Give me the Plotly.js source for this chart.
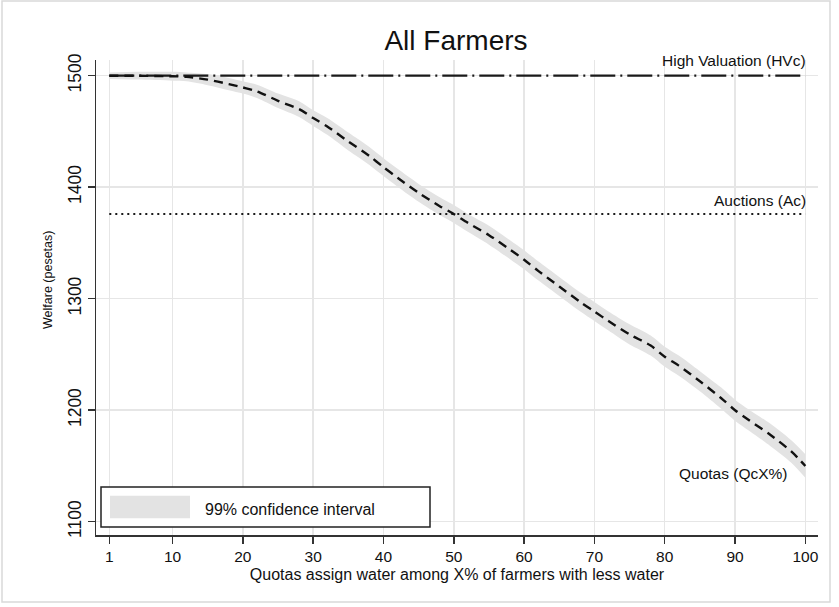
<!DOCTYPE html>
<html>
<head>
<meta charset="utf-8">
<script src="https://cdn.plot.ly/plotly-3.0.1.min.js"></script>
<style>html,body{margin:0;padding:0;background:#fff;}#chart{width:839px;height:607px;}</style>
</head>
<body>
<div id="chart"></div>
<script>
// X% of farmers with less water
const xPct = [1,5,10,12,15,18,20,22,25,28,30,32,35,38,40,42,45,48,50,52,55,58,60,62,65,68,70,72,75,78,80,82,85,88,90,92,95,98,100];
// Quotas (QcX%) welfare estimate
const quotaWelfare = [1500,1500,1499.5,1499,1496.5,1492.5,1489.5,1486,1477.5,1470,1462,1454.5,1441,1428,1418,1408.5,1395,1383,1376,1368,1357,1344,1335,1325,1311,1297,1288.5,1280,1268,1258,1248,1240,1226,1211,1200,1191,1178,1163,1150];
// 99% confidence interval bounds
const ciLow  = [1497,1496.5,1495.5,1495,1491.5,1487,1484,1480,1471,1463,1455,1447,1433,1420,1410,1400.5,1387,1375,1368,1360,1348.5,1335.5,1326.5,1316.5,1302.5,1288.5,1280,1271.5,1259,1249,1239,1231,1217,1201.5,1190.5,1181.5,1168,1153,1139.5];
const ciHigh = [1503,1503.5,1503.5,1503,1501.5,1498,1495,1492,1484,1477,1469,1462,1449,1436,1426,1416.5,1403,1391,1384,1376,1365.5,1352.5,1343.5,1333.5,1319.5,1305.5,1297,1288.5,1277,1267,1257,1249,1235,1220.5,1209.5,1200.5,1188,1173,1160.5];
// Reference levels
const hvcX = [1, 100];
const hvcWelfare = [1500, 1500];
const acX = [1, 100];
const acWelfare = [1376, 1376];
// Tick labels
const xTicks = [1,10,20,30,40,50,60,70,80,90,100];
const yTicks = [1100,1200,1300,1400,1500];

const FONT = 'Liberation Sans, Arial, Helvetica, sans-serif';

const traces = [
  {x: xPct, y: ciLow, mode: 'lines', line: {width: 0, color: 'rgba(0,0,0,0)', shape: 'spline', smoothing: 0.8}, hoverinfo: 'skip', showlegend: false},
  {x: xPct, y: ciHigh, mode: 'lines', fill: 'tonexty', fillcolor: '#e3e3e3', line: {width: 0, color: 'rgba(0,0,0,0)', shape: 'spline', smoothing: 0.8}, name: '99% confidence interval', showlegend: false},
  {x: hvcX, y: hvcWelfare, mode: 'lines', line: {color: '#1a1a1a', width: 2.2, dash: '25px,5px,2px,5px'}, name: 'High Valuation (HVc)', showlegend: false},
  {x: acX, y: acWelfare, mode: 'lines', line: {color: '#1a1a1a', width: 2, dash: '2px,4px'}, name: 'Auctions (Ac)', showlegend: false},
  {x: xPct, y: quotaWelfare, mode: 'lines', line: {color: '#111', width: 2.4, dash: '9px,6px', shape: 'spline', smoothing: 0.8}, name: 'Quotas (QcX%)', showlegend: false}
];

const layout = {
  width: 839, height: 607,
  margin: {l: 96, r: 21, t: 60, b: 72, pad: 0},
  paper_bgcolor: '#fff', plot_bgcolor: '#fff',
  font: {family: FONT, color: '#111', size: 15},
  showlegend: false,
  title: {text: 'All Farmers', font: {family: FONT, size: 28, color: '#111'}, x: 456/839, xanchor: 'center', xref: 'container', y: 1 - 40/607, yanchor: 'middle', yref: 'container'},
  xaxis: {
    range: [-0.89, 101.8], tickvals: xTicks, ticktext: xTicks.map(String),
    showgrid: true, gridcolor: '#e6e6e6', gridwidth: 1.5,
    zeroline: false, showline: true, linecolor: '#333', linewidth: 1.5,
    ticks: 'outside', ticklen: 7, tickcolor: '#333', tickwidth: 1.5,
    tickfont: {family: FONT, size: 15.5, color: '#111'},
    title: {text: 'Quotas assign water among X% of farmers with less water', font: {family: FONT, size: 16, color: '#111'}, standoff: 4},
    automargin: false
  },
  yaxis: {
    range: [1088.1, 1514.1], tickvals: yTicks, ticktext: yTicks.map(String),
    showgrid: true, gridcolor: '#e6e6e6', gridwidth: 1.5,
    zeroline: false, showline: true, linecolor: '#333', linewidth: 1.5,
    ticks: 'outside', ticklen: 7, tickcolor: '#333', tickwidth: 1.5, tickangle: -90,
    tickfont: {family: FONT, size: 17.5, color: '#111'},
    automargin: false
  },
  shapes: [
    // outer frame of the graph
    {type: 'rect', xref: 'paper', yref: 'paper', x0: (2-96)/722, x1: (830-96)/722, y0: (535-602)/475, y1: (535-1)/475, line: {color: '#d9d9d9', width: 1.5}, fillcolor: 'rgba(0,0,0,0)', layer: 'below'},
    // legend box
    {type: 'rect', xref: 'paper', yref: 'paper', x0: (101-96)/722, x1: (430-96)/722, y0: (535-527)/475, y1: (535-487)/475, line: {color: '#222', width: 1.5}, fillcolor: '#fff', layer: 'above'},
    // legend swatch
    {type: 'rect', xref: 'paper', yref: 'paper', x0: (110-96)/722, x1: (190-96)/722, y0: (535-518.3)/475, y1: (535-495.7)/475, line: {width: 0}, fillcolor: '#e3e3e3', layer: 'above'}
  ],
  annotations: [
    {text: 'Welfare (pesetas)', xref: 'paper', yref: 'paper', x: (48-96)/722, y: (535-280)/475, xanchor: 'center', yanchor: 'middle', textangle: -90, showarrow: false, font: {family: FONT, size: 12.5, color: '#111'}},
    {text: '99% confidence interval', xref: 'paper', yref: 'paper', x: (203-96)/722, y: (535-509.3)/475, xanchor: 'left', yanchor: 'middle', showarrow: false, font: {family: FONT, size: 16, color: '#111'}},
    {text: 'High Valuation (HVc)', xref: 'paper', yref: 'paper', x: (808-96)/722, y: (535-60)/475, xanchor: 'right', yanchor: 'middle', showarrow: false, font: {family: FONT, size: 15.5, color: '#111'}},
    {text: 'Auctions (Ac)', xref: 'paper', yref: 'paper', x: (808-96)/722, y: (535-200)/475, xanchor: 'right', yanchor: 'middle', showarrow: false, font: {family: FONT, size: 15.5, color: '#111'}},
    {text: 'Quotas (QcX%)', xref: 'paper', yref: 'paper', x: (790-96)/722, y: (535-473)/475, xanchor: 'right', yanchor: 'middle', showarrow: false, font: {family: FONT, size: 15.5, color: '#111'}}
  ]
};

Plotly.newPlot('chart', traces, layout, {displayModeBar: false, staticPlot: true});
</script>
</body>
</html>
